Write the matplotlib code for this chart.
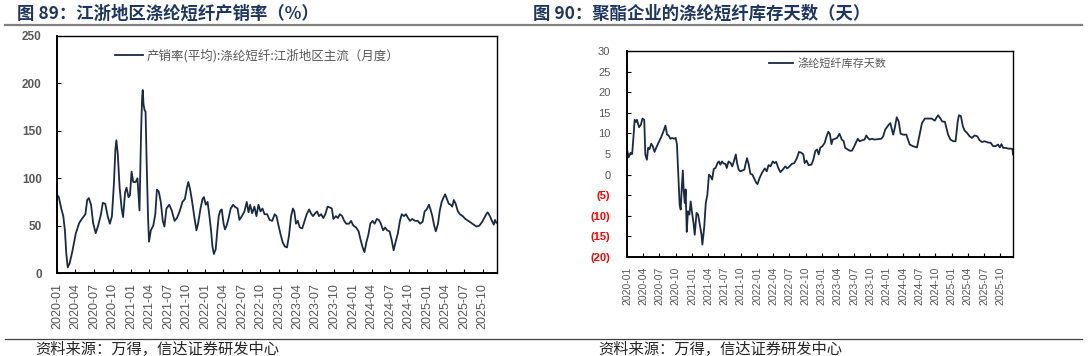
import numpy as np
import pandas as pd
import matplotlib
matplotlib.use('Agg')
import matplotlib.pyplot as plt
from matplotlib.lines import Line2D
from matplotlib.ticker import FuncFormatter, MultipleLocator

plt.rcParams['font.family'] = ['Liberation Sans', 'Noto Sans CJK SC', 'DejaVu Sans']
CJK = ['Noto Sans CJK SC', 'DejaVu Sans']

# ---- data: left chart (产销率, %)
sales_dates = [
    '2020-01-03', '2020-01-10', '2020-01-22', '2020-02-01', '2020-02-09', '2020-02-16', '2020-02-23',
    '2020-03-03', '2020-03-16', '2020-04-03', '2020-04-20', '2020-05-06', '2020-05-20', '2020-05-29',
    '2020-06-06', '2020-06-17', '2020-06-27', '2020-07-10', '2020-07-22', '2020-08-05', '2020-08-14',
    '2020-08-26', '2020-09-07', '2020-09-18', '2020-09-28', '2020-10-08', '2020-10-15', '2020-10-20',
    '2020-10-27', '2020-11-05', '2020-11-15', '2020-11-22', '2020-12-02', '2020-12-09', '2020-12-19',
    '2020-12-26', '2021-01-03', '2021-01-11', '2021-01-23', '2021-02-01', '2021-02-11', '2021-02-19',
    '2021-02-24', '2021-02-27', '2021-03-03', '2021-03-08', '2021-03-13', '2021-03-18', '2021-03-25',
    '2021-03-30', '2021-04-08', '2021-04-20', '2021-04-30', '2021-05-08', '2021-05-17', '2021-05-27',
    '2021-06-06', '2021-06-14', '2021-06-24', '2021-07-08', '2021-07-20', '2021-08-03', '2021-08-15',
    '2021-08-28', '2021-09-11', '2021-09-23', '2021-10-03', '2021-10-10', '2021-10-19', '2021-10-29',
    '2021-11-08', '2021-11-19', '2021-11-27', '2021-12-09', '2021-12-19', '2021-12-26', '2022-01-04',
    '2022-01-13', '2022-01-21', '2022-01-30', '2022-02-06', '2022-02-13', '2022-02-22', '2022-03-02',
    '2022-03-09', '2022-03-17', '2022-03-24', '2022-04-02', '2022-04-09', '2022-04-17', '2022-04-27',
    '2022-05-07', '2022-05-19', '2022-05-27', '2022-06-10', '2022-06-19', '2022-07-01', '2022-07-14',
    '2022-07-25', '2022-08-03', '2022-08-11', '2022-08-21', '2022-09-01', '2022-09-11', '2022-09-21',
    '2022-10-01', '2022-10-11', '2022-10-21', '2022-11-03', '2022-11-15', '2022-11-28', '2022-12-10',
    '2022-12-19', '2022-12-29', '2023-01-09', '2023-01-19', '2023-01-29', '2023-02-09', '2023-02-19',
    '2023-03-01', '2023-03-10', '2023-03-17', '2023-03-25', '2023-04-03', '2023-04-13', '2023-04-25',
    '2023-05-07', '2023-05-17', '2023-05-29', '2023-06-07', '2023-06-17', '2023-06-28', '2023-07-07',
    '2023-07-17', '2023-07-27', '2023-08-07', '2023-08-17', '2023-08-28', '2023-09-09', '2023-09-18',
    '2023-09-26', '2023-10-08', '2023-10-18', '2023-10-28', '2023-11-08', '2023-11-18', '2023-11-28',
    '2023-12-12', '2023-12-22', '2024-01-02', '2024-01-16', '2024-01-28', '2024-02-07', '2024-02-17',
    '2024-02-26', '2024-03-06', '2024-03-16', '2024-03-26', '2024-04-06', '2024-04-16', '2024-04-27',
    '2024-05-07', '2024-05-17', '2024-05-28', '2024-06-07', '2024-06-17', '2024-06-29', '2024-07-09',
    '2024-07-19', '2024-07-29', '2024-08-09', '2024-08-19', '2024-08-28', '2024-09-08', '2024-09-18',
    '2024-09-28', '2024-10-08', '2024-10-19', '2024-11-02', '2024-11-15', '2024-11-27', '2024-12-09',
    '2024-12-19', '2024-12-29', '2025-01-09', '2025-01-17', '2025-01-26', '2025-02-04', '2025-02-12',
    '2025-02-23', '2025-03-03', '2025-03-13', '2025-03-23', '2025-03-30', '2025-04-08', '2025-04-17',
    '2025-04-27', '2025-05-04', '2025-05-12', '2025-05-21', '2025-06-01', '2025-06-11', '2025-06-25',
    '2025-07-08', '2025-07-22', '2025-08-05', '2025-08-18', '2025-09-01', '2025-09-15', '2025-09-29',
    '2025-10-09', '2025-10-19', '2025-10-26', '2025-11-06', '2025-11-16', '2025-11-25', '2025-12-01',
    '2025-12-08',
]
sales_ratio = [
    82, 80, 68, 60, 45, 20, 6,
    10, 22, 42, 53, 58, 62, 77,
    79, 72, 53, 42, 50, 62, 74,
    73, 60, 52, 60, 95, 130, 140,
    125, 90, 68, 59, 85, 90, 80,
    82, 107, 96, 96, 100, 66, 150,
    185, 193, 178, 172, 170, 120, 60,
    33, 45, 50, 62, 88, 86, 75,
    55, 49, 68, 72, 66, 55, 58,
    65, 75, 78, 90, 96, 88, 75,
    60, 45, 52, 68, 78, 80, 72,
    75, 62, 45, 28, 20, 25, 45,
    60, 66, 67, 52, 46, 50, 58,
    68, 72, 70, 68, 56, 60, 65,
    75, 64, 72, 63, 70, 60, 72,
    65, 68, 62, 62, 56, 55, 62,
    60, 50, 40, 32, 28, 27, 40,
    60, 68, 65, 52, 55, 48, 47,
    55, 62, 67, 63, 60, 63, 65,
    60, 62, 58, 62, 70, 69, 68,
    57, 60, 58, 62, 60, 55, 52,
    52, 55, 50, 48, 44, 35, 27,
    22, 32, 40, 52, 55, 52, 57,
    56, 52, 45, 48, 45, 44, 35,
    24, 33, 42, 55, 62, 60, 62,
    58, 55, 57, 55, 55, 52, 54,
    65, 67, 72, 67, 60, 50, 44,
    52, 65, 75, 80, 83, 78, 73,
    72, 70, 77, 73, 65, 62, 60,
    57, 55, 53, 51, 49, 50, 54,
    58, 62, 64, 60, 55, 51, 56,
    53,
]

# ---- data: right chart (库存天数)
stock_dates = [
    '2020-01-01', '2020-01-10', '2020-01-21', '2020-01-30', '2020-02-08', '2020-02-13', '2020-02-21',
    '2020-02-26', '2020-03-02', '2020-03-09', '2020-03-19', '2020-03-28', '2020-04-07', '2020-04-13',
    '2020-04-22', '2020-04-29', '2020-05-07', '2020-05-16', '2020-05-25', '2020-06-04', '2020-06-14',
    '2020-06-28', '2020-07-11', '2020-07-24', '2020-08-04', '2020-08-13', '2020-08-22', '2020-09-01',
    '2020-09-10', '2020-09-21', '2020-10-01', '2020-10-08', '2020-10-16', '2020-10-23', '2020-10-29',
    '2020-11-04', '2020-11-10', '2020-11-15', '2020-11-21', '2020-11-26', '2020-12-02', '2020-12-09',
    '2020-12-17', '2020-12-24', '2021-01-01', '2021-01-09', '2021-01-16', '2021-01-26', '2021-02-04',
    '2021-02-13', '2021-02-23', '2021-02-28', '2021-03-10', '2021-03-19', '2021-03-28', '2021-04-06',
    '2021-04-15', '2021-04-24', '2021-05-03', '2021-05-13', '2021-05-24', '2021-06-01', '2021-06-09',
    '2021-06-18', '2021-06-27', '2021-07-08', '2021-07-15', '2021-07-25', '2021-08-06', '2021-08-15',
    '2021-08-24', '2021-09-04', '2021-09-11', '2021-09-20', '2021-09-29', '2021-10-11', '2021-10-22',
    '2021-10-29', '2021-11-06', '2021-11-16', '2021-11-25', '2021-12-06', '2021-12-15', '2021-12-28',
    '2022-01-04', '2022-01-16', '2022-01-29', '2022-02-14', '2022-02-25', '2022-03-07', '2022-03-18',
    '2022-03-31', '2022-04-10', '2022-04-19', '2022-05-02', '2022-05-13', '2022-05-26', '2022-06-09',
    '2022-06-20', '2022-07-03', '2022-07-16', '2022-07-30', '2022-08-14', '2022-08-25', '2022-09-08',
    '2022-09-19', '2022-09-26', '2022-10-07', '2022-10-18', '2022-11-03', '2022-11-14', '2022-11-25',
    '2022-12-05', '2022-12-14', '2022-12-23', '2023-01-04', '2023-01-17', '2023-01-26', '2023-02-06',
    '2023-02-15', '2023-02-24', '2023-03-03', '2023-03-16', '2023-03-27', '2023-04-10', '2023-04-23',
    '2023-05-04', '2023-05-12', '2023-05-23', '2023-06-06', '2023-06-19', '2023-06-29', '2023-07-13',
    '2023-07-22', '2023-08-01', '2023-08-14', '2023-08-29', '2023-09-08', '2023-09-17', '2023-09-27',
    '2023-10-10', '2023-10-24', '2023-11-13', '2023-12-01', '2023-12-12', '2023-12-23', '2024-01-12',
    '2024-01-21', '2024-02-06', '2024-02-15', '2024-02-26', '2024-03-08', '2024-03-19', '2024-04-02',
    '2024-04-20', '2024-05-09', '2024-05-27', '2024-06-19', '2024-07-04', '2024-07-17', '2024-08-02',
    '2024-08-20', '2024-09-09', '2024-09-27', '2024-10-06', '2024-10-16', '2024-10-29', '2024-11-08',
    '2024-11-23', '2024-12-02', '2024-12-11', '2024-12-24', '2025-01-09', '2025-01-22', '2025-02-03',
    '2025-02-10', '2025-02-21', '2025-03-04', '2025-03-14', '2025-03-28', '2025-04-11', '2025-04-24',
    '2025-05-09', '2025-05-24', '2025-06-07', '2025-06-20', '2025-07-04', '2025-07-23', '2025-08-08',
    '2025-08-21', '2025-09-04', '2025-09-18', '2025-09-28', '2025-10-07', '2025-10-16', '2025-10-29',
    '2025-11-14', '2025-11-29', '2025-12-08', '2025-12-11',
]
stock_days = [
    6.1, 4.2, 5.3, 5.0, 10.1, 13.3, 12.8,
    13.3, 12.5, 11.5, 12.1, 13.6, 13.3, 4.9,
    3.6, 6.5, 6.2, 7.5, 6.9, 5.5, 6.6,
    7.9, 9.1, 10.5, 11.9, 9.7, 9.5, 8.7,
    8.9, 8.7, 8.9, 7.3, -0.8, -7.3, -8.5,
    -3.2, 1.0, -4.0, -6.9, -3.6, -13.9, -8.9,
    -9.7, -6.5, -9.3, -11.7, -14.6, -9.3, -9.7,
    -12.1, -14.6, -17.0, -12.9, -6.9, -4.9, 0.0,
    -0.4, -1.2, 1.4, 1.6, 2.8, 3.2, 2.4,
    3.2, 2.7, 2.6, 1.6, 3.2, 2.8, 2.0,
    3.2, 4.9, 2.8, 1.2, 0.8, 1.0, 1.2,
    2.6, 4.0, 2.4, 0.2, 0.0, -0.8, -2.0,
    -2.3, -0.8, 0.4, 1.5, 0.8, 2.3, 2.0,
    3.2, 2.8, 3.1, 1.5, 0.6, 1.2, 2.0,
    1.5, 2.0, 2.6, 2.8, 4.0, 5.5, 5.3,
    4.9, 2.8, 3.4, 2.3, 2.4, 3.6, 5.7,
    6.1, 4.9, 6.5, 6.9, 7.7, 9.1, 10.4,
    9.9, 7.4, 8.5, 8.7, 8.9, 9.9, 8.5,
    8.1, 6.5, 6.2, 5.8, 5.8, 6.6, 7.9,
    8.7, 8.1, 8.3, 8.5, 9.5, 8.9, 8.5,
    8.7, 8.5, 8.6, 8.7, 9.3, 10.9, 12.1,
    12.5, 9.7, 11.3, 13.9, 12.9, 9.9, 9.7,
    9.7, 7.3, 6.9, 6.6, 9.7, 12.5, 13.6,
    13.6, 13.6, 13.1, 13.8, 14.4, 13.6, 12.9,
    12.8, 11.3, 9.7, 8.5, 8.1, 8.1, 12.9,
    14.4, 14.2, 11.7, 10.7, 10.1, 9.3, 8.9,
    9.5, 9.3, 8.3, 7.9, 8.1, 7.8, 7.7,
    6.9, 6.9, 7.3, 6.6, 7.4, 6.5, 6.5,
    6.3, 6.3, 6.2, 4.9,
]

tick_months = pd.date_range('2020-01-01', '2025-10-01', freq='3MS')
x_start = pd.Timestamp('2020-01-01')
x_end = pd.Timestamp('2025-12-11')

title_left = '图 89：江浙地区涤纶短纤产销率（%）'
title_right = '图 90：聚酯企业的涤纶短纤库存天数（天）'
legend_left = '产销率(平均):涤纶短纤:江浙地区主流（月度）'
legend_right = '涤纶短纤库存天数'
source_text = '资料来源：万得，信达证券研发中心'

LINE = '#1c2a44'
GRAY = '#595959'
NAVY = '#1f3760'

W, H = 1088, 356
fig = plt.figure(figsize=(W / 100, H / 100), dpi=100)


def px_axes(x0, y0, x1, y1):
    return fig.add_axes([x0 / W, 1 - y1 / H, (x1 - x0) / W, (y1 - y0) / H])


def style_axes(ax, xsize):
    ax.set_xlim(x_start, x_end)
    ax.set_xticks(tick_months)
    ax.set_xticklabels([d.strftime('%Y-%m') for d in tick_months], rotation=90,
                       fontsize=xsize, color=GRAY)
    ax.tick_params(axis='both', direction='in', length=3, width=0.8, color='black')
    ax.tick_params(axis='x', pad=7)
    for s in ['top', 'right']:
        ax.spines[s].set_linewidth(1.0)
    for s in ['left', 'bottom']:
        ax.spines[s].set_linewidth(1.4)
    for s in ax.spines.values():
        s.set_color('black')


# ---- left chart
ax1 = px_axes(57, 36, 497, 273)
ax1.plot(pd.to_datetime(sales_dates), sales_ratio, color=LINE, linewidth=1.3)
ax1.set_ylim(0, 250)
ax1.yaxis.set_major_locator(MultipleLocator(50))
style_axes(ax1, 9)
ax1.tick_params(axis='y', pad=11, labelsize=8.5, labelcolor=GRAY)
for lab in ax1.get_yticklabels():
    lab.set_fontweight('bold')

h1 = Line2D([], [], color=LINE, linewidth=1.3)
fig.legend([h1], [legend_left], loc='center left', bbox_to_anchor=(115 / W, 1 - 56 / H),
           frameon=False, prop={'family': CJK, 'size': 9}, labelcolor=GRAY,
           handlelength=2.2, handletextpad=0.3, borderpad=0, borderaxespad=0)

# ---- right chart
ax2 = px_axes(627, 51, 1013, 257)
ax2.plot(pd.to_datetime(stock_dates), stock_days, color=LINE, linewidth=1.3)
ax2.set_ylim(-20, 30)
ax2.yaxis.set_major_locator(MultipleLocator(5))
ax2.yaxis.set_major_formatter(FuncFormatter(lambda v, p: f'({abs(v):.0f})' if v < 0 else f'{v:.0f}'))
style_axes(ax2, 7.5)
ax2.tick_params(axis='y', pad=12, labelsize=8)
fig.canvas.draw()
for lab in ax2.get_yticklabels():
    txt = lab.get_text()
    if txt.startswith('('):
        lab.set_color('#ff0000')
        lab.set_fontweight('bold')
    else:
        lab.set_color(GRAY)

h2 = Line2D([], [], color=LINE, linewidth=1.3)
fig.legend([h2], [legend_right], loc='center left', bbox_to_anchor=(769 / W, 1 - 63 / H),
           frameon=False, prop={'family': CJK, 'size': 8}, labelcolor=GRAY,
           handlelength=2.2, handletextpad=0.4, borderpad=0, borderaxespad=0)

# ---- titles, rules and source lines
fig.text(17 / W, 1 - 13.5 / H, title_left, family=CJK, fontsize=12.5, fontweight='bold',
         color=NAVY, va='center', ha='left')
fig.text(533 / W, 1 - 13.5 / H, title_right, family=CJK, fontsize=12.5, fontweight='bold',
         color=NAVY, va='center', ha='left')
fig.add_artist(Line2D([5 / W, 1082 / W], [1 - 24.5 / H, 1 - 24.5 / H], color='#808080', linewidth=1.6))
fig.add_artist(Line2D([5 / W, 1082 / W], [1 - 338.5 / H, 1 - 338.5 / H], color='#404040', linewidth=0.9))
fig.text(35 / W, 1 - 349.5 / H, source_text, family=CJK, fontsize=11, style='italic',
         color='#262626', va='center', ha='left')
fig.text(598 / W, 1 - 349.5 / H, source_text, family=CJK, fontsize=11, style='italic',
         color='#262626', va='center', ha='left')

fig.savefig('out.png', dpi=100)
